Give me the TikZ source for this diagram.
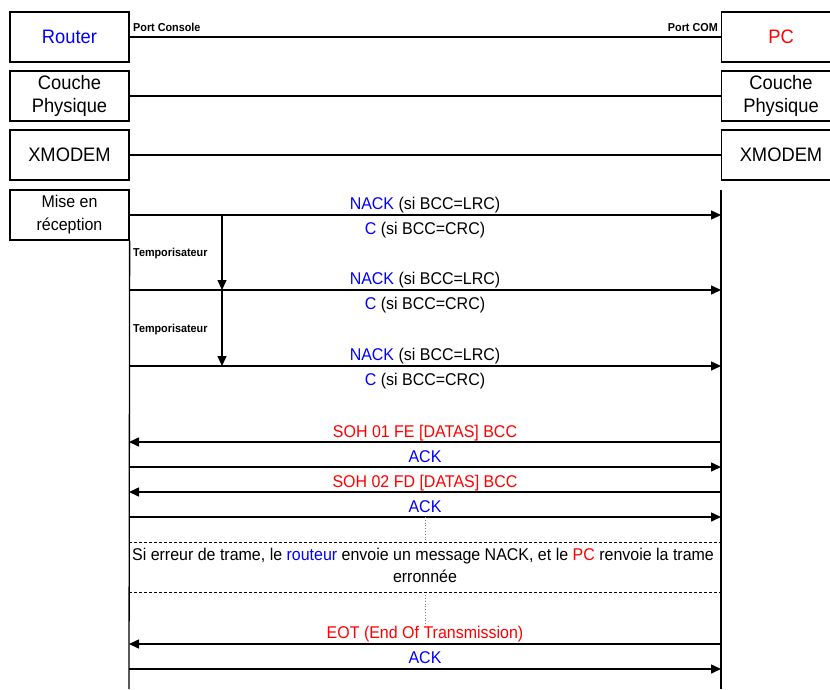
\documentclass[tikz,border=0pt]{standalone}
\usepackage{fontspec}
\setmainfont{Liberation Sans}[FakeStretch=0.94]
\usetikzlibrary{arrows.meta}

\tikzset{
  box/.style={draw,line width=1.3pt,minimum width=119pt,minimum height=50pt,
    inner sep=0pt,align=center,font=\fontsize{19.5}{23.3}\selectfont},
  life/.style={line width=1.3pt},
  msg/.style={line width=1.5pt,-{Triangle[length=10pt,width=9pt]}},
  lbl/.style={anchor=base,inner sep=0pt,font=\fontsize{17}{22}\selectfont},
  smalltxt/.style={inner sep=0pt,font=\fontsize{11.5}{13}\selectfont\bfseries},
  divider/.style={line width=1pt,dash pattern=on 3pt off 2pt},
  guide/.style={gray,line width=0.8pt,dotted},
}

\begin{document}
\begin{tikzpicture}[x=1pt,y=-1pt]
  \useasboundingbox (0,0) rectangle (830,689);
  % layer stacks
  \node[box] (router) at (69.5,37) {\textcolor{blue}{Router}};
  \node[box] (phyL) at (69.5,96) {Couche\\Physique};
  \node[box] (xmodemL) at (69.5,155) {XMODEM};
  \node[box,font=\fontsize{17}{23}\selectfont] (mise) at (69.5,215) {Mise en\\réception};
  \node[box] (pc) at (781,37) {\textcolor{red}{PC}};
  \node[box] (phyR) at (781,96) {Couche\\Physique};
  \node[box] (xmodemR) at (781,155) {XMODEM};
  \draw[life] (router.east) -- (pc.west);
  \draw[life] (phyL.east) -- (phyR.west);
  \draw[life] (xmodemL.east) -- (xmodemR.west);
  \node[smalltxt,anchor=base west] (portcon) at (133,31) {Port Console};
  \node[smalltxt,anchor=base east] (portcom) at (718,31) {Port COM};
  % lifelines
  \coordinate (endL) at (129,689);
  \coordinate (topR) at (721,190);
  \coordinate (endR) at (721,689);
  \draw[life] (mise.south east) -- (endL);
  \draw[life] (topR) -- (endR);
  % reception requests
  \foreach \y [count=\i] in {215,290,366} {
    \coordinate (nl\i) at (129,\y);
    \coordinate (nr\i) at (721,\y);
    \draw[msg] (nl\i) -- (nr\i);
    \node[lbl] (nack\i) at (425,\y-6) {\textcolor{blue}{NACK} (si BCC=LRC)};
    \node[lbl] (crc\i) at (425,\y+19) {\textcolor{blue}{C} (si BCC=CRC)};
  }
  \coordinate (t1) at (222,215);
  \coordinate (t2) at (222,290);
  \coordinate (t3) at (222,366);
  \draw[msg,line width=1.3pt] (t1) -- (t2);
  \draw[msg,line width=1.3pt] (t2) -- (t3);
  \node[smalltxt,anchor=base west] (temp1) at (133,256.7) {Temporisateur};
  \node[smalltxt,anchor=base west] (temp2) at (133,332.3) {Temporisateur};
  % data blocks
  \foreach \y [count=\i] in {442,467,492,517,644,669} {
    \coordinate (dl\i) at (129,\y);
    \coordinate (dr\i) at (721,\y);
  }
  \draw[msg] (dr1) -- (dl1);
  \node[lbl,red] (soh1) at (425,437) {SOH 01 FE [DATAS] BCC};
  \draw[msg] (dl2) -- (dr2);
  \node[lbl,blue] (ack1) at (425,462) {ACK};
  \draw[msg] (dr3) -- (dl3);
  \node[lbl,red] (soh2) at (425,487) {SOH 02 FD [DATAS] BCC};
  \draw[msg] (dl4) -- (dr4);
  \node[lbl,blue] (ack2) at (425,512) {ACK};
  \draw[msg] (dr5) -- (dl5);
  \node[lbl,red] (eot) at (425,638.5) {EOT (End Of Transmission)};
  \draw[msg] (dl6) -- (dr6);
  \node[lbl,blue] (ack3) at (425,663.5) {ACK};
  % error frame note
  \coordinate (g1) at (425,517);
  \coordinate (g2) at (425,542.3);
  \coordinate (g3) at (425,592.3);
  \coordinate (g4) at (425,624);
  \draw[guide] (g1) -- (g2);
  \draw[guide] (g3) -- (g4);
  \coordinate (sa) at (129,542.3);
  \coordinate (sb) at (720,542.3);
  \coordinate (sc) at (129,592.3);
  \coordinate (sd) at (720,592.3);
  \draw[divider] (sa) -- (sb);
  \draw[divider] (sc) -- (sd);
  \node[lbl] (note1) at (423,560.7) {Si erreur de trame, le \textcolor{blue}{routeur} envoie un message NACK, et le \textcolor{red}{PC} renvoie la trame};
  \node[lbl] (note2) at (425,582.7) {erronnée};
\end{tikzpicture}
\end{document}
